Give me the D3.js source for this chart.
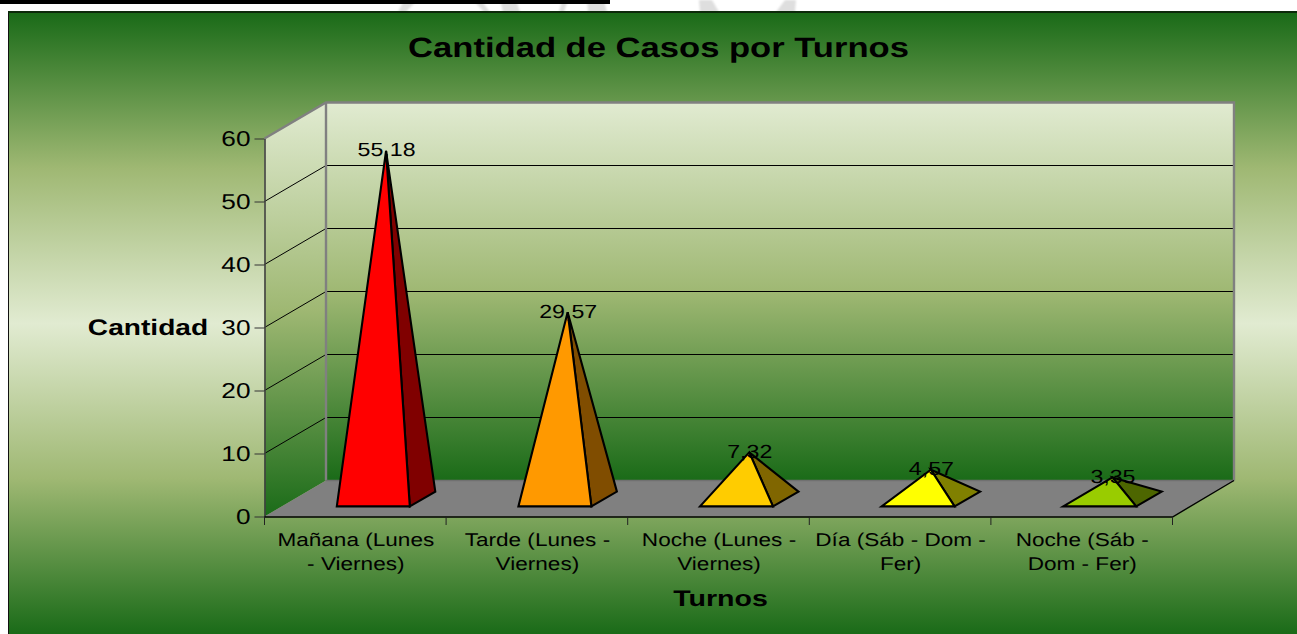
<!DOCTYPE html>
<html><head><meta charset="utf-8">
<script src="https://cdnjs.cloudflare.com/ajax/libs/d3/7.8.5/d3.min.js"></script>
<style>html,body{margin:0;padding:0;background:#fff;overflow:hidden}svg{display:block}text{font-family:"Liberation Sans",Arial,sans-serif;fill:#000;text-rendering:geometricPrecision}</style>
</head><body><svg id="c" width="1297" height="634"></svg>
<script>
const chartTitle = "Cantidad de Casos por Turnos";
const xTitle = "Turnos";
const yTitle = "Cantidad";
const categoryLine1 = ["Mañana (Lunes", "Tarde (Lunes -", "Noche (Lunes -", "Día (Sáb - Dom -", "Noche (Sáb -"];
const categoryLine2 = ["- Viernes)", "Viernes)", "Viernes)", "Fer)", "Dom - Fer)"];
const categoryKeys = [0, 1, 2, 3, 4];
const values = [55.18, 29.57, 7.32, 4.57, 3.35];
const yTicks = [0, 10, 20, 30, 40, 50, 60];
const frontColors = ["#ff0000", "#ff9900", "#ffcc00", "#ffff00", "#99cc00"];
const sideColors = ["#800000", "#804d00", "#806600", "#808000", "#4d6600"];

const DARK = "#1a6b18", MID = "#9fb873", LIGHT = "#e1ebd1";
const SX = 1.22;               // the original picture is stretched horizontally
const L = 264.5, R = 1172.5, B = 516.5, T = 138.5;
const DX = 61.5, DY = 36;      // 3D depth offset of the back wall
const HALF = 36.5, DEPTHX = 12.75, DEPTHY = 7.4; // pyramid base

const svg = d3.select("#c");
const x = d3.scaleBand().domain(categoryKeys).range([L, R]);
const y = d3.scaleLinear().domain([0, 60]).range([B, T]);
const comma = d3.formatLocale({decimal: ",", thousands: ".", grouping: [3], currency: ["", ""]}).format(".2f");
const line = d3.line();

function stext(sel, px, py, str, size, weight, sx) {
  return sel.append("text")
    .attr("transform", `translate(${px},${py}) scale(${sx || SX},1)`)
    .attr("font-size", size).attr("font-weight", weight || "normal")
    .attr("text-anchor", "middle").text(str);
}

const defs = svg.append("defs");
function grad(id, y1, y2, stops) {
  const g = defs.append("linearGradient").attr("id", id).attr("gradientUnits", "userSpaceOnUse")
    .attr("x1", 0).attr("x2", 0).attr("y1", y1).attr("y2", y2);
  stops.forEach(([o, c]) => g.append("stop").attr("offset", o).attr("stop-color", c));
}
grad("bg", 13, 634, [[0, DARK], [0.25, MID], [0.5, LIGHT], [0.75, MID], [1, DARK]]);
grad("wall", T - DY, B - DY, [[0, LIGHT], [0.5, MID], [1, DARK]]);
grad("side", T - DY, B, [[0, LIGHT], [0.5, MID], [1, DARK]]);

// page decoration: blurred watermark remnants and black rule at the top
defs.append("filter").attr("id", "soft").append("feGaussianBlur").attr("stdDeviation", 1);
const wm = [[[404,0],[417,0],[406,12],[398,12]], [[473,0],[481,0],[490,12],[484,12]], [[500,0],[516,0],[520,12],[503,12]],
            [[562,0],[568,0],[564,12],[559,12]], [[587,0],[604,0],[607,12],[588,12]], [[699,0],[712,0],[719,12],[700,12]], [[785,0],[796,0],[795,12],[776,12]]];
svg.append("g").attr("filter", "url(#soft)").selectAll("path").data(wm).join("path")
  .attr("d", d => line(d) + "Z").attr("fill", "#dedede");
svg.append("rect").attr("x", 0).attr("y", 0).attr("width", 610).attr("height", 4).attr("fill", "#000");

// chart area
svg.append("rect").attr("x", 8.5).attr("y", 12).attr("width", 1300).attr("height", 640)
  .attr("fill", "url(#bg)").attr("stroke", "#111").attr("stroke-width", 1);
svg.append("rect").attr("x", 8).attr("y", 11).attr("width", 1289).attr("height", 2).attr("fill", "#0c2a0a");

// walls and floor
const bx = L + DX, rx = R + DX, fy = B - DY;
svg.append("path").attr("d", line([[L, y(60)], [bx, y(60) - DY], [bx, fy], [L, B]]) + "Z").attr("fill", "url(#side)");
svg.append("rect").attr("x", bx).attr("y", y(60) - DY).attr("width", rx - bx).attr("height", fy - (y(60) - DY)).attr("fill", "url(#wall)");
svg.append("path").attr("d", line([[L, B], [bx, fy], [rx, fy], [R, B]]) + "Z").attr("fill", "#808080");

// gridlines
const gridTicks = yTicks.slice(1, -1);
svg.append("g").selectAll("path").data(gridTicks).join("path")
  .attr("d", v => line([[L, y(v)], [bx, y(v) - DY], [rx, y(v) - DY]]))
  .attr("fill", "none").attr("stroke", "#000").attr("stroke-width", 1);

// wall outline
svg.append("path").attr("d", line([[L, y(60)], [bx, y(60) - DY], [rx, y(60) - DY], [rx, fy]]))
  .attr("fill", "none").attr("stroke", "#808080").attr("stroke-width", 2.4);
svg.append("path").attr("d", line([[bx, y(60) - DY], [bx, fy]]))
  .attr("fill", "none").attr("stroke", "#808080").attr("stroke-width", 2.4);
svg.append("line").attr("x1", bx).attr("x2", rx).attr("y1", fy).attr("y2", fy).attr("stroke", "#707070").attr("stroke-width", 1.5);

// y axis
const yAxis = svg.append("g").attr("transform", `translate(${L},0)`)
  .call(d3.axisLeft(y).tickValues(yTicks).tickSize(10).tickPadding(5).tickSizeOuter(0));
yAxis.select(".domain").attr("stroke", "#404040").attr("stroke-width", 1.6);
yAxis.selectAll(".tick line").attr("stroke", "#333");
yAxis.selectAll(".tick text")
  .attr("font-family", '"Liberation Sans",Arial,sans-serif').attr("font-size", 21.5)
  .attr("transform", `scale(${SX},1)`).attr("x", -14 / SX).attr("dy", "0.34em");

// x axis
svg.append("path").attr("d", line([[L, B + 0.5], [R, B + 0.5], [rx, fy]])).attr("fill", "none").attr("stroke", "#000").attr("stroke-width", 1.4);
const edges = categoryKeys.map(k => x(k)).concat([R]);
svg.append("g").selectAll("line").data(edges).join("line")
  .attr("x1", d => d).attr("x2", d => d).attr("y1", B).attr("y2", B + 8.5).attr("stroke", "#222");
categoryKeys.forEach(k => {
  const cx = x(k) + x.bandwidth() / 2 + 0.5;
  stext(svg, cx, 546, categoryLine1[k], 18.5);
  stext(svg, cx, 570, categoryLine2[k], 18.5);
});

// pyramids
const pyr = svg.append("g").selectAll("g").data(categoryKeys).join("g");
const geom = k => {
  const c = x(k) + x.bandwidth() / 2 + DX / 2, m = B - DY / 2 + 0.5;
  return {c, m, apex: [c, y(values[k]) - DY / 2],
    fl: [c - DEPTHX - HALF, m + DEPTHY], fr: [c - DEPTHX + HALF, m + DEPTHY], br: [c + DEPTHX + HALF, m - DEPTHY]};
};
pyr.append("path").attr("d", k => { const g = geom(k); return line([g.fr, g.br, g.apex]) + "Z"; })
  .attr("fill", k => sideColors[k]).attr("stroke", "#000").attr("stroke-width", 2.1).attr("stroke-linejoin", "miter");
pyr.append("path").attr("d", k => { const g = geom(k); return line([g.fl, g.fr, g.apex]) + "Z"; })
  .attr("fill", k => frontColors[k]).attr("stroke", "#000").attr("stroke-width", 2.1).attr("stroke-linejoin", "miter");

// value labels
categoryKeys.forEach(k => {
  const g = geom(k);
  stext(svg, g.c + 0.5, g.apex[1] + 5.5, comma(values[k]), 19);
});

// titles
stext(svg, 658.5, 57, chartTitle, 28, "bold", 1.235);
stext(svg, 720.5, 606, xTitle, 22.5, "bold", 1.27);
stext(svg, 148, 335, yTitle, 22.5, "bold", 1.25);
</script></body></html>
